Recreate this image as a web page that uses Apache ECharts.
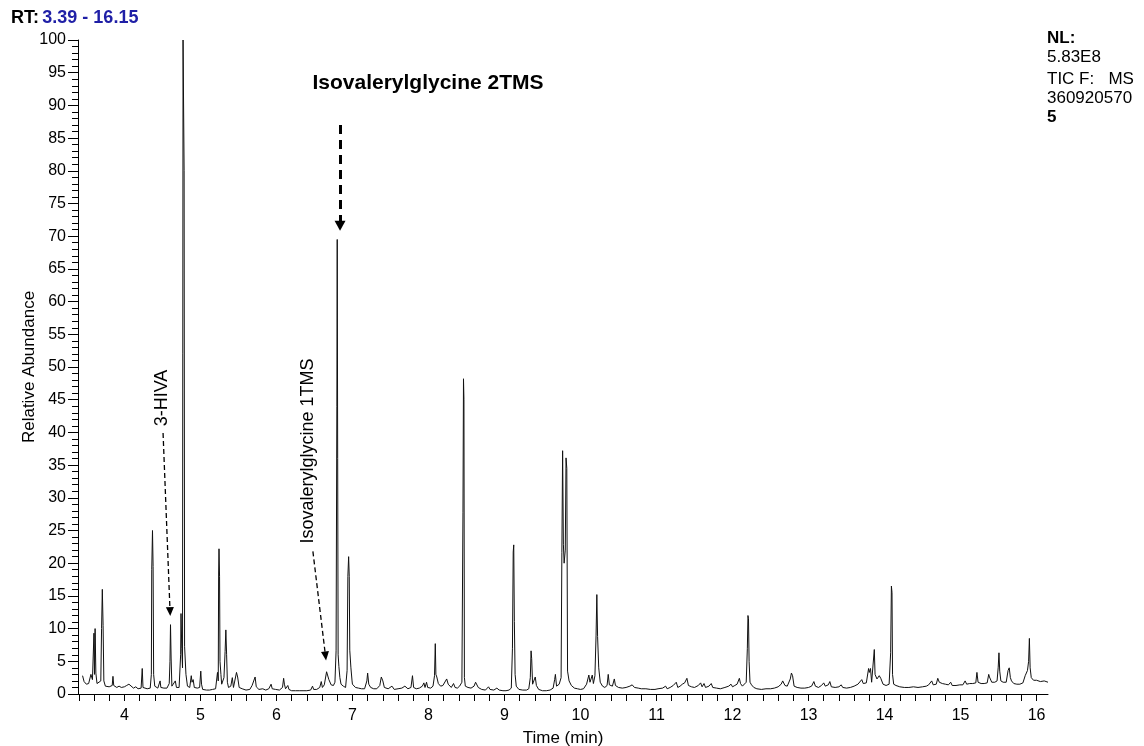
<!DOCTYPE html>
<html>
<head>
<meta charset="utf-8">
<script src="https://cdn.jsdelivr.net/npm/echarts@6/dist/echarts.min.js"></script>
<style>
  html, body { margin: 0; padding: 0; background: #fff; }
  #chart { width: 1144px; height: 746px; }
</style>
</head>
<body>
<div id="chart"></div>
<script>
// TIC trace, [retention time (min), relative abundance (%)]
var trace1 = [
  [3.45, 2.8], [3.47, 1.9], [3.5, 1.5], [3.53, 1.6], [3.56, 3.0], [3.58, 2.2], [3.6, 9.3], [3.607, 3.0],
  [3.615, 10.0], [3.625, 3.2], [3.64, 1.6], [3.66, 1.3], [3.69, 2.0], [3.70, 10.0], [3.71, 16.0], [3.72, 10.5],
  [3.73, 2.0], [3.75, 1.2], [3.8, 1.1], [3.84, 1.3], [3.85, 2.7], [3.86, 1.3], [3.9, 1.0], [3.93, 1.2], [3.96, 1.0],
  [4.0, 1.1], [4.03, 1.3], [4.06, 1.5], [4.08, 1.2], [4.12, 0.9], [4.15, 1.1], [4.18, 0.8], [4.22, 0.9], [4.235, 3.9],
  [4.245, 1.0], [4.27, 0.9], [4.3, 0.8], [4.34, 0.9], [4.355, 3.0], [4.36, 19.0], [4.37, 25.0], [4.378, 19.5],
  [4.385, 3.0], [4.40, 1.2], [4.44, 0.9], [4.46, 1.2], [4.47, 2.0], [4.48, 1.0], [4.52, 0.9], [4.56, 0.9], [4.59, 1.6],
  [4.60, 5.0], [4.607, 10.6], [4.615, 5.5], [4.625, 1.2], [4.65, 1.0], [4.67, 2.0], [4.685, 1.0], [4.72, 1.0],
  [4.74, 6.0], [4.745, 12.3], [4.755, 7.0], [4.765, 4.0], [4.772, 100], [4.782, 100], [4.786, 80], [4.792, 7.3],
  [4.81, 3.0], [4.83, 1.2], [4.86, 1.0], [4.88, 2.8], [4.89, 1.8], [4.905, 2.2], [4.92, 1.0], [4.96, 0.9], [4.99, 1.0],
  [5.005, 3.5], [5.015, 1.5], [5.03, 0.7]
];
var trace2 = [
  [5.08, 0.6], [5.12, 0.6], [5.16, 0.7], [5.2, 0.8], [5.225, 3.3], [5.235, 2.0], [5.24, 18.5], [5.245, 22.2],
  [5.252, 18.0], [5.258, 5.0], [5.27, 3.0], [5.28, 1.5], [5.31, 2.5], [5.325, 6.5], [5.335, 9.8], [5.345, 6.0],
  [5.355, 1.8], [5.37, 1.0], [5.40, 1.2], [5.42, 2.5], [5.435, 1.0], [5.46, 1.1], [5.475, 3.3], [5.49, 2.6],
  [5.51, 1.0], [5.55, 0.8], [5.6, 0.6], [5.65, 0.7], [5.68, 1.3], [5.70, 1.5], [5.72, 2.6], [5.735, 1.1], [5.77, 0.7],
  [5.82, 0.8], [5.86, 0.6], [5.9, 0.8], [5.93, 1.5], [5.945, 0.8], [5.99, 0.7], [6.04, 0.6], [6.08, 1.0], [6.095, 2.4],
  [6.105, 1.5], [6.12, 0.8], [6.15, 1.3], [6.165, 0.7], [6.2, 0.5], [6.25, 0.5], [6.3, 0.5], [6.35, 0.5], [6.4, 0.5],
  [6.45, 0.6], [6.475, 1.2], [6.49, 0.7], [6.53, 0.7], [6.57, 1.0], [6.59, 1.9], [6.605, 1.0], [6.63, 1.4],
  [6.66, 3.4], [6.675, 3.5], [6.69, 2.2], [6.72, 1.4], [6.75, 1.3], [6.77, 1.8], [6.785, 6.6], [6.795, 44],
  [6.80, 69.5], [6.806, 36], [6.812, 6.0], [6.822, 4.2], [6.835, 2.5], [6.85, 1.5], [6.88, 1.2], [6.91, 1.0],
  [6.93, 3.6], [6.94, 18], [6.95, 21], [6.958, 18], [6.965, 6.7], [6.98, 4.0], [6.995, 2.0]
];
var trace3 = [
  [7.0, 1.5], [7.04, 1.0], [7.08, 0.9], [7.12, 0.8], [7.16, 0.8], [7.19, 2.0], [7.20, 3.2], [7.215, 1.5], [7.24, 1.0],
  [7.28, 0.8], [7.32, 0.8], [7.36, 1.3], [7.38, 2.6], [7.40, 2.0], [7.42, 1.0], [7.47, 0.8], [7.52, 1.2], [7.535, 1.3],
  [7.55, 0.7], [7.6, 0.8], [7.65, 0.9], [7.69, 1.2], [7.71, 1.5], [7.73, 0.8], [7.77, 1.0], [7.79, 2.8], [7.805, 1.0],
  [7.84, 0.8], [7.88, 0.9], [7.92, 1.2], [7.94, 1.7], [7.955, 1.0], [7.975, 1.8], [7.99, 1.0], [8.03, 0.9],
  [8.06, 1.2], [8.08, 2.8], [8.09, 7.7], [8.098, 3.0], [8.11, 2.6], [8.13, 1.6], [8.16, 1.2], [8.19, 1.3], [8.21, 1.0],
  [8.24, 2.3], [8.26, 1.5], [8.28, 1.3], [8.3, 1.0], [8.33, 1.6], [8.35, 1.0], [8.38, 0.9], [8.41, 1.2], [8.44, 1.8],
  [8.454, 27.7], [8.461, 48.2], [8.467, 45], [8.473, 2.5], [8.485, 1.2], [8.52, 1.0], [8.56, 0.9], [8.6, 1.2],
  [8.62, 1.8], [8.64, 1.6], [8.655, 1.0], [8.7, 0.7], [8.75, 0.6], [8.79, 1.1], [8.81, 0.7], [8.86, 0.6], [8.9, 0.9],
  [8.93, 0.6], [8.98, 0.5]
];
var trace4 = [
  [9.02, 0.5], [9.06, 0.6], [9.09, 0.9], [9.105, 7.0], [9.115, 21.7], [9.122, 22.8], [9.13, 11.1], [9.14, 3.0],
  [9.155, 1.2], [9.19, 0.7], [9.24, 0.6], [9.29, 0.6], [9.32, 0.8], [9.34, 2.5], [9.35, 6.6], [9.358, 5.4],
  [9.37, 1.5], [9.39, 1.5], [9.405, 2.6], [9.42, 1.3], [9.45, 0.7], [9.5, 0.5], [9.55, 0.5], [9.6, 0.6], [9.64, 0.9],
  [9.66, 2.2], [9.67, 3.0], [9.685, 1.2], [9.72, 1.5], [9.745, 2.5], [9.755, 21.6], [9.765, 37.2], [9.775, 22.9],
  [9.785, 20], [9.80, 22.0], [9.81, 36.1], [9.82, 34.5], [9.83, 3.5], [9.85, 2.0], [9.88, 1.3], [9.92, 0.9],
  [9.96, 0.8], [10.0, 0.7], [10.04, 0.8], [10.08, 1.5], [10.11, 2.9], [10.125, 1.8], [10.14, 2.0], [10.155, 2.9],
  [10.17, 1.6], [10.19, 2.8], [10.205, 9], [10.215, 15.2], [10.225, 8.8], [10.24, 4.0], [10.26, 1.8], [10.29, 1.2],
  [10.32, 1.0], [10.35, 1.3], [10.365, 3.0], [10.38, 1.4], [10.42, 1.2], [10.445, 2.3], [10.46, 1.3], [10.5, 1.0],
  [10.55, 0.9], [10.6, 1.0], [10.65, 1.2], [10.68, 1.4], [10.71, 1.0], [10.76, 0.9], [10.8, 0.8], [10.86, 0.8],
  [10.92, 0.7], [10.98, 0.7]
];
var trace5 = [
  [11.02, 0.8], [11.08, 0.9], [11.12, 1.2], [11.14, 0.8], [11.18, 1.0], [11.22, 1.3], [11.26, 1.8], [11.28, 1.0],
  [11.31, 1.2], [11.34, 1.5], [11.37, 1.7], [11.40, 2.4], [11.42, 1.3], [11.46, 1.1], [11.5, 1.0], [11.55, 1.3],
  [11.58, 1.7], [11.60, 1.1], [11.625, 1.6], [11.645, 1.0], [11.69, 1.2], [11.72, 1.6], [11.74, 1.0], [11.79, 0.9],
  [11.84, 0.8], [11.9, 1.0], [11.95, 1.2], [11.98, 1.5], [12.0, 1.1], [12.03, 1.3], [12.06, 1.5], [12.09, 2.4],
  [12.105, 1.6], [12.13, 1.2], [12.18, 1.8], [12.195, 7.0], [12.203, 12.0], [12.21, 11.5], [12.218, 5.0],
  [12.23, 1.8], [12.25, 1.4], [12.28, 1.0], [12.32, 0.8], [12.38, 0.7], [12.44, 0.8], [12.5, 0.8], [12.55, 0.9],
  [12.6, 1.1], [12.64, 1.5], [12.66, 2.0], [12.69, 1.3], [12.72, 1.2], [12.76, 2.3], [12.775, 3.2], [12.79, 2.8],
  [12.81, 1.2], [12.85, 1.0], [12.9, 0.9], [12.95, 0.9], [13.0, 1.0]
];
var trace6 = [
  [13.04, 1.2], [13.07, 1.9], [13.09, 1.2], [13.13, 1.0], [13.17, 1.3], [13.2, 1.7], [13.22, 1.2], [13.26, 1.4],
  [13.28, 1.9], [13.3, 1.1], [13.35, 1.0], [13.4, 1.1], [13.43, 1.4], [13.45, 1.0], [13.5, 0.9], [13.55, 1.0],
  [13.6, 1.2], [13.65, 1.5], [13.70, 2.2], [13.72, 1.6], [13.76, 1.7], [13.79, 3.9], [13.80, 3.3], [13.815, 3.9],
  [13.83, 1.8], [13.85, 2.0], [13.865, 6.8], [13.875, 3.0], [13.9, 2.3], [13.93, 2.8], [13.95, 2.4], [13.98, 1.5],
  [14.02, 1.3], [14.06, 1.5], [14.08, 6.3], [14.09, 16.5], [14.098, 15.5], [14.105, 3.0], [14.12, 1.5],
  [14.15, 1.3], [14.2, 1.1], [14.26, 1.0], [14.32, 1.0], [14.38, 1.1], [14.44, 1.0], [14.5, 1.1], [14.55, 1.2],
  [14.58, 1.4], [14.62, 2.0], [14.64, 1.4], [14.68, 1.5], [14.70, 2.4], [14.72, 1.8], [14.76, 1.6], [14.8, 1.5],
  [14.84, 1.4], [14.87, 1.8], [14.89, 1.3], [14.94, 1.3], [14.99, 1.4], [15.03, 1.4], [15.06, 2.0], [15.08, 1.5],
  [15.12, 1.6], [15.16, 1.6], [15.2, 1.7], [15.215, 3.3], [15.23, 1.8], [15.27, 1.6], [15.31, 1.6], [15.35, 1.7],
  [15.37, 3.0], [15.38, 2.6], [15.395, 2.8], [15.41, 1.8], [15.45, 1.8], [15.48, 2.0], [15.495, 4.1], [15.505, 6.3],
  [15.515, 3.5], [15.53, 2.0], [15.56, 1.8], [15.60, 1.8], [15.625, 3.6], [15.64, 4.0], [15.655, 2.5], [15.67, 2.0],
  [15.7, 1.6], [15.74, 1.5], [15.78, 1.5], [15.82, 1.7], [15.85, 2.8], [15.88, 3.6], [15.895, 5.0], [15.905, 8.5],
  [15.915, 4.0], [15.93, 2.5], [15.96, 2.1], [16.0, 2.1], [16.05, 1.9], [16.1, 2.0], [16.15, 1.8]
];

var rtRange = [3.39, 16.15];
var timeLabels = [4, 5, 6, 7, 8, 9, 10, 11, 12, 13, 14, 15, 16];
var infoLines = ['NL:', '5.83E8', 'TIC F:   MS', '360920570', '5'];

// annotation arrows: [start, end] in (min, %)
var arrow2TMS = [[6.837, 87.0], [6.837, 71.6]];
var arrowHIVA = [[4.509, 39.9], [4.601, 12.6]];
var arrow1TMS = [[6.48, 21.8], [6.646, 5.8]];

var timeTicks = [];
for (var k = 17; k <= 80; k++) timeTicks.push(Math.round(k * 20) / 100);

var trace = trace1.concat(trace2, trace3, trace4, trace5, trace6);

var chart = echarts.init(document.getElementById('chart'));

function arrowSeries(coords, width, dash, size) {
    return {
        type: 'line',
        data: [],
        silent: true,
        markLine: {
            silent: true,
            animation: false,
            symbol: ['none', 'triangle'],
            symbolSize: size,
            label: {show: false},
            lineStyle: {color: '#000', width: width, type: dash, opacity: 1},
            emphasis: {disabled: true},
            data: [[{coord: coords[0]}, {coord: coords[1]}]]
        }
    };
}

var font = '"Liberation Sans", Arial, sans-serif';

chart.setOption({
    backgroundColor: '#fff',
    animation: false,
    grid: {left: 78, right: 96, top: 40, bottom: 52, outerBoundsMode: 'none'},
    xAxis: {
        type: 'value',
        min: rtRange[0],
        max: rtRange[1],
        name: 'Time (min)',
        nameLocation: 'middle',
        nameGap: 36,
        nameMoveOverlap: false,
        nameTextStyle: {color: '#000', fontSize: 17, fontFamily: font},
        axisLine: {show: true, onZero: false, lineStyle: {color: '#000', width: 1}},
        axisTick: {show: true, length: 7, customValues: timeTicks, lineStyle: {color: '#000'}},
        axisLabel: {customValues: timeLabels, margin: 14, color: '#000', fontSize: 16, fontFamily: font},
        splitLine: {show: false}
    },
    yAxis: {
        type: 'value',
        min: 0,
        max: 100,
        interval: 5,
        name: 'Relative Abundance',
        nameLocation: 'middle',
        nameGap: 40,
        nameMoveOverlap: false,
        nameTextStyle: {color: '#000', fontSize: 17, fontFamily: font},
        axisLine: {show: true, lineStyle: {color: '#000', width: 1}},
        axisTick: {show: true, length: 10, lineStyle: {color: '#000'}},
        minorTick: {show: true, splitNumber: 5, length: 6, lineStyle: {color: '#000'}},
        axisLabel: {margin: 12, color: '#000', fontSize: 16, fontFamily: font},
        splitLine: {show: false}
    },
    graphic: [
        {
            type: 'text', x: 11, y: 18,
            style: {
                text: '{a|RT:} {b|3.39 - 16.15}',
                verticalAlign: 'middle',
                rich: {
                    a: {fontSize: 18, fontWeight: 'bold', fill: '#000', fontFamily: font},
                    b: {fontSize: 18, fontWeight: 'bold', fill: '#1f1fa6', fontFamily: font}
                }
            }
        },
        {type: 'text', x: 1047, y: 38, style: {text: infoLines[0], fill: '#000', font: 'bold 17px ' + font, verticalAlign: 'middle'}},
        {type: 'text', x: 1047, y: 57, style: {text: infoLines[1], fill: '#000', font: '17px ' + font, verticalAlign: 'middle'}},
        {type: 'text', x: 1047, y: 79, style: {text: infoLines[2], fill: '#000', font: '17px ' + font, verticalAlign: 'middle'}},
        {type: 'text', x: 1047, y: 98, style: {text: infoLines[3], fill: '#000', font: '17px ' + font, verticalAlign: 'middle'}},
        {type: 'text', x: 1047, y: 117, style: {text: infoLines[4], fill: '#000', font: 'bold 17px ' + font, verticalAlign: 'middle'}},
        {type: 'text', x: 428, y: 83, style: {text: 'Isovalerylglycine 2TMS', fill: '#000', font: 'bold 21px ' + font, align: 'center', verticalAlign: 'middle'}},
        {type: 'text', x: 162, y: 398, rotation: Math.PI / 2, style: {text: '3-HIVA', fill: '#000', font: '18px ' + font, align: 'center', verticalAlign: 'middle'}},
        {type: 'text', x: 308, y: 451, rotation: Math.PI / 2, style: {text: 'Isovalerylglycine 1TMS', fill: '#000', font: '18px ' + font, align: 'center', verticalAlign: 'middle'}}
    ],
    series: [
        {
            type: 'line',
            data: trace,
            showSymbol: false,
            symbol: 'none',
            silent: true,
            lineStyle: {color: '#111', width: 1},
            clip: true
        },
        arrowSeries(arrow2TMS, 3, [9, 6], [11, 10]),
        arrowSeries(arrowHIVA, 1.3, [5, 3], [8, 9]),
        arrowSeries(arrow1TMS, 1.3, [5, 3], [8, 9])
    ]
});
</script>
</body>
</html>
